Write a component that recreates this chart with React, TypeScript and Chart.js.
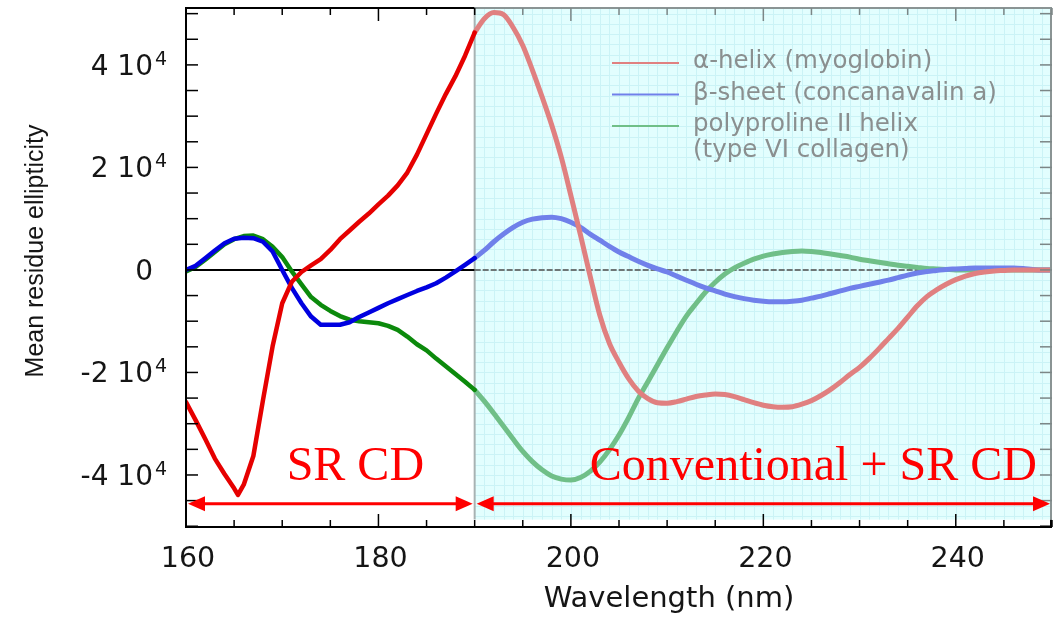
import React, { useEffect, useRef } from "react";
import { Chart, registerables } from "chart.js";

Chart.register(...registerables);

// ---------------- DATA ----------------
const alphaSRWavelengths = [160, 161, 162, 163, 164, 165, 165.4, 166, 167, 168, 169, 170, 171, 172, 173, 174, 175, 176, 177, 178, 179, 180, 181, 182, 183, 184, 185, 186, 187, 188, 189, 190];
const alphaSR = [-25800, -29300, -33000, -36800, -39800, -42600, -43900, -41900, -36300, -25400, -14900, -6500, -2300, -400, 900, 2100, 3900, 6000, 7700, 9400, 11000, 12800, 14500, 16500, 19000, 22500, 26500, 30500, 34300, 37800, 41800, 46300];

const srWavelengths = [160, 161, 162, 163, 164, 165, 166, 167, 168, 169, 170, 171, 172, 173, 174, 175, 176, 177, 178, 179, 180, 181, 182, 183, 184, 185, 186, 187, 188, 189, 190];
const betaSR = [0, 800, 2300, 3800, 5200, 6100, 6300, 6200, 5500, 3600, 0, -3500, -6500, -9100, -10700, -10700, -10700, -10200, -9200, -8300, -7400, -6500, -5700, -4900, -4100, -3400, -2600, -1500, -300, 1000, 2300];
const ppiiSR = [-300, 600, 2000, 3500, 5000, 6000, 6600, 6700, 6000, 4500, 2500, -300, -2800, -5300, -6800, -8000, -9000, -9700, -10000, -10200, -10400, -10900, -11700, -13000, -14500, -15700, -17300, -18800, -20300, -21800, -23400];

const convWavelengths = [190, 191, 192, 193, 194, 195, 196, 197, 198, 199, 200, 201, 202, 203, 204, 205, 206, 207, 208, 209, 210, 211, 212, 213, 214, 215, 216, 217, 218, 219, 220, 221, 222, 223, 224, 225, 226, 227, 228, 229, 230, 231, 232, 233, 234, 235, 236, 237, 238, 239, 240, 241, 242, 243, 244, 245, 246, 247, 248, 249, 250];
const alphaConv = [46300, 49000, 50200, 49800, 47300, 43800, 39000, 33800, 28300, 22000, 14500, 6800, -1200, -8800, -14300, -18000, -21200, -23600, -25100, -25900, -26000, -25700, -25200, -24700, -24400, -24200, -24300, -24700, -25300, -25900, -26400, -26700, -26800, -26700, -26200, -25500, -24500, -23300, -21900, -20400, -19000, -17300, -15400, -13400, -11400, -9200, -7000, -5200, -3900, -2800, -1900, -1200, -700, -400, -200, -100, 0, 0, 0, 0, 0];
const betaConv = [2300, 3800, 5500, 7000, 8300, 9300, 9900, 10200, 10300, 10000, 9300, 8300, 7000, 5800, 4600, 3500, 2600, 1700, 900, 200, -400, -1200, -2000, -2800, -3500, -4100, -4700, -5200, -5600, -5900, -6100, -6200, -6200, -6100, -5900, -5500, -5100, -4600, -4100, -3600, -3200, -2800, -2400, -2000, -1500, -1000, -600, -300, -100, 100, 200, 300, 400, 400, 400, 400, 400, 300, 100, 0, 0];
const ppiiConv = [-23400, -25600, -28000, -30500, -33000, -35400, -37400, -39000, -40200, -40800, -41000, -40500, -39300, -37500, -35100, -32200, -28800, -25100, -21800, -18500, -15200, -12000, -9000, -6600, -4300, -2400, -800, 400, 1300, 2100, 2700, 3100, 3400, 3600, 3700, 3600, 3400, 3100, 2800, 2500, 2100, 1800, 1500, 1200, 900, 700, 500, 300, 200, 100, 0, 0, 0, 0, 0, 0, 0, 0, 0, 0, 0];

const legendLabels = [["α-helix (myoglobin)"], ["β-sheet (concanavalin a)"], ["polyproline II helix", "(type VI collagen)"]];

const xTickLabels = [160, 180, 200, 220, 240];
const yTickValues = [-40000, -20000, 0, 20000, 40000];
const yTickMantissa = ["-4 10", "-2 10", "0", "2 10", "4 10"];
const yTickExponent = ["4", "4", "", "4", "4"];

const regionLabels = ["SR CD", "Conventional + SR CD"];
const regionStarts = [160, 190];
const regionEnds = [190, 250];

const xTitle = "Wavelength (nm)";
const yTitle = "Mean residue ellipticity";

// ---------------- STYLE ----------------
const X_MIN = 160, X_MAX = 250, Y_MIN = -50150, Y_MAX = 51100;
const SHADE_BOTTOM = -48700;
const ARROW_Y = -45600;
const REGION_TEXT_Y = -41000;
const SR_COLORS = ["#e60000", "#0000e0", "#0c8a0c"];
const CONV_COLORS = ["#e08080", "#7080ea", "#70bf88"];

const pts = (xs: number[], ys: number[]) => xs.map((w, i) => ({ x: w, y: ys[i] }));

const decorPlugin = {
  id: "decor",
  beforeDatasetsDraw(chart: any) {
    const { ctx, chartArea: ca, scales } = chart;
    const x = scales.x, y = scales.y;
    const xs = x.getPixelForValue(regionStarts[1]);
    const xe = x.getPixelForValue(regionEnds[1]);
    const yb = y.getPixelForValue(SHADE_BOTTOM);
    ctx.save();
    ctx.fillStyle = "#e2fefe";
    ctx.fillRect(xs, ca.top, xe - xs, yb - ca.top);
    ctx.strokeStyle = "#cbf3f6";
    ctx.lineWidth = 1;
    ctx.beginPath();
    for (let w = regionStarts[1] + 1; w < regionEnds[1]; w++) {
      const px = Math.round(x.getPixelForValue(w)) + 0.5;
      ctx.moveTo(px, ca.top);
      ctx.lineTo(px, yb);
    }
    for (let v = -48000; v <= 50000; v += 2000) {
      const py = Math.round(y.getPixelForValue(v)) + 0.5;
      ctx.moveTo(xs, py);
      ctx.lineTo(xe, py);
    }
    ctx.stroke();
    // boundary
    ctx.strokeStyle = "#a8b2b2";
    ctx.lineWidth = 2;
    ctx.beginPath();
    ctx.moveTo(xs, ca.top);
    ctx.lineTo(xs, yb);
    ctx.stroke();
    // zero line
    const y0 = y.getPixelForValue(0);
    ctx.strokeStyle = "#000";
    ctx.beginPath();
    ctx.moveTo(ca.left, y0);
    ctx.lineTo(xs, y0);
    ctx.stroke();
    ctx.strokeStyle = "#6e7676";
    ctx.setLineDash([6, 2]);
    ctx.beginPath();
    ctx.moveTo(xs, y0);
    ctx.lineTo(ca.right, y0);
    ctx.stroke();
    ctx.setLineDash([]);
    ctx.restore();
  },
  afterDatasetsDraw(chart: any) {
    const { ctx, chartArea: ca, scales } = chart;
    const x = scales.x, y = scales.y;
    const xs = x.getPixelForValue(regionStarts[1]);
    const yb = y.getPixelForValue(SHADE_BOTTOM);
    ctx.save();
    ctx.lineCap = "butt";
    // frame
    ctx.lineWidth = 2;
    ctx.strokeStyle = "#000";
    ctx.beginPath();
    ctx.moveTo(ca.left, ca.top - 1);
    ctx.lineTo(ca.left, ca.bottom + 1);
    ctx.moveTo(ca.left - 1, ca.bottom);
    ctx.lineTo(ca.right, ca.bottom);
    ctx.moveTo(ca.left, ca.top);
    ctx.lineTo(xs, ca.top);
    ctx.moveTo(ca.right - 1, yb);
    ctx.lineTo(ca.right - 1, ca.bottom);
    ctx.stroke();
    ctx.strokeStyle = "#8a9494";
    ctx.beginPath();
    ctx.moveTo(xs, ca.top);
    ctx.lineTo(ca.right, ca.top);
    ctx.moveTo(ca.right - 1, ca.top);
    ctx.lineTo(ca.right - 1, yb);
    ctx.stroke();
    // ticks
    ctx.lineWidth = 1.5;
    for (let v = -50000; v <= 50000; v += 5000) {
      const py = y.getPixelForValue(v);
      ctx.strokeStyle = "#000";
      ctx.beginPath();
      ctx.moveTo(ca.left, py);
      ctx.lineTo(ca.left + 12, py);
      ctx.stroke();
      ctx.strokeStyle = py < yb ? "#7c8686" : "#000";
      ctx.beginPath();
      ctx.moveTo(ca.right, py);
      ctx.lineTo(ca.right - 12, py);
      ctx.stroke();
    }
    for (let w = X_MIN; w <= X_MAX; w += 5) {
      const px = x.getPixelForValue(w);
      const len = (w - X_MIN) % 20 === 0 ? 13 : 7;
      ctx.strokeStyle = "#000";
      ctx.beginPath();
      ctx.moveTo(px, ca.bottom);
      ctx.lineTo(px, ca.bottom - len);
      ctx.stroke();
      ctx.strokeStyle = w > regionStarts[1] ? "#7c8686" : "#000";
      ctx.beginPath();
      ctx.moveTo(px, ca.top);
      ctx.lineTo(px, ca.top + len);
      ctx.stroke();
    }
    // arrows
    ctx.strokeStyle = "#ff0000";
    ctx.fillStyle = "#ff0000";
    ctx.lineWidth = 3;
    const ay = y.getPixelForValue(ARROW_Y);
    for (let i = 0; i < regionStarts.length; i++) {
      const x1 = x.getPixelForValue(regionStarts[i]) + 2;
      const x2 = x.getPixelForValue(regionEnds[i]) - 2;
      ctx.beginPath();
      ctx.moveTo(x1 + 8, ay);
      ctx.lineTo(x2 - 8, ay);
      ctx.stroke();
      ctx.beginPath();
      ctx.moveTo(x1, ay);
      ctx.lineTo(x1 + 17, ay - 7.5);
      ctx.lineTo(x1 + 17, ay + 7.5);
      ctx.closePath();
      ctx.fill();
      ctx.beginPath();
      ctx.moveTo(x2, ay);
      ctx.lineTo(x2 - 17, ay - 7.5);
      ctx.lineTo(x2 - 17, ay + 7.5);
      ctx.closePath();
      ctx.fill();
    }
    // region labels
    const ty = y.getPixelForValue(REGION_TEXT_Y);
    ctx.font = "48px 'Liberation Serif', 'Times New Roman', serif";
    ctx.textAlign = "center";
    ctx.textBaseline = "alphabetic";
    ctx.fillText(regionLabels[0], x.getPixelForValue(177.6), ty);
    ctx.fillText(regionLabels[1], x.getPixelForValue(225.2), ty);

    // legend
    const lx = ca.left + 426;
    const ly = ca.top + 55;
    const rowGap = 31.5;
    ctx.font = "24.5px 'DejaVu Sans', sans-serif";
    ctx.textAlign = "left";
    ctx.textBaseline = "middle";
    let row = 0;
    legendLabels.forEach((lines, i) => {
      const yy = ly + row * rowGap;
      ctx.strokeStyle = CONV_COLORS[i];
      ctx.lineWidth = 2;
      ctx.beginPath();
      ctx.moveTo(lx, yy);
      ctx.lineTo(lx + 67, yy);
      ctx.stroke();
      ctx.fillStyle = "#8a8f8f";
      lines.forEach((t, j) => {
        ctx.fillText(t, lx + 81, yy - 1 + j * 26);
      });
      row += 1;
    });

    // y tick labels
    ctx.fillStyle = "#151515";
    ctx.textBaseline = "alphabetic";
    yTickValues.forEach((v, i) => {
      const py = y.getPixelForValue(v);
      ctx.font = "28px 'DejaVu Sans', sans-serif";
      ctx.textAlign = "right";
      ctx.fillText(yTickMantissa[i], ca.left - 33, py + 10);
      if (yTickExponent[i]) {
        ctx.font = "19px 'DejaVu Sans', sans-serif";
        ctx.textAlign = "left";
        ctx.fillText(yTickExponent[i], ca.left - 31, py);
      }
    });
    // x tick labels
    ctx.font = "28.5px 'DejaVu Sans', sans-serif";
    ctx.textAlign = "center";
    xTickLabels.forEach((v) => {
      ctx.fillText(String(v), x.getPixelForValue(v) + 2, ca.bottom + 40);
    });
    // axis titles
    ctx.font = "29px 'DejaVu Sans', sans-serif";
    ctx.fillText(xTitle, ca.left + 483, ca.bottom + 80);
    ctx.save();
    ctx.translate(43, 251);
    ctx.rotate(-Math.PI / 2);
    ctx.font = "25px 'Liberation Sans', Arial, sans-serif";
    ctx.textAlign = "center";
    ctx.textBaseline = "alphabetic";
    ctx.fillText(yTitle, 0, 0);
    ctx.restore();
    ctx.restore();
  },
};

export default function App() {
  const ref = useRef<HTMLCanvasElement>(null);
  useEffect(() => {
    if (!ref.current) return;
    const srLine = (data: any, color: string) => ({
      data,
      borderColor: color,
      borderWidth: 4.5,
      pointRadius: 0,
      tension: 0,
      fill: false,
      borderJoinStyle: "round" as const,
      borderCapStyle: "round" as const,
    });
    const convLine = (data: any, color: string) => ({
      data,
      borderColor: color,
      borderWidth: 5,
      pointRadius: 0,
      cubicInterpolationMode: "monotone" as const,
      fill: false,
      borderJoinStyle: "round" as const,
      borderCapStyle: "round" as const,
    });
    const chart = new Chart(ref.current, {
      type: "line",
      data: {
        datasets: [
          srLine(pts(alphaSRWavelengths, alphaSR), SR_COLORS[0]),
          convLine(pts(convWavelengths, alphaConv), CONV_COLORS[0]),
          srLine(pts(srWavelengths, betaSR), SR_COLORS[1]),
          convLine(pts(convWavelengths, betaConv), CONV_COLORS[1]),
          srLine(pts(srWavelengths, ppiiSR), SR_COLORS[2]),
          convLine(pts(convWavelengths, ppiiConv), CONV_COLORS[2]),
        ] as any,
      },
      options: {
        animation: false,
        responsive: false,
        devicePixelRatio: 1,
        layout: { padding: { top: 8, right: 1, left: 0, bottom: 0 } },
        plugins: { legend: { display: false }, tooltip: { enabled: false } },
        events: [],
        scales: {
          x: {
            type: "linear",
            min: X_MIN,
            max: X_MAX,
            ticks: { display: false },
            grid: { display: false },
            border: { display: false },
            afterFit: (s: any) => {
              s.height = 91;
            },
          },
          y: {
            type: "linear",
            min: Y_MIN,
            max: Y_MAX,
            ticks: { display: false },
            grid: { display: false },
            border: { display: false },
            afterFit: (s: any) => {
              s.width = 186;
            },
          },
        },
      } as any,
      plugins: [decorPlugin],
    });
    return () => chart.destroy();
  }, []);
  return (
    <div style={{ position: "fixed", left: 0, top: 0, width: 1053, height: 618, background: "#fff" }}>
      <canvas ref={ref} width={1053} height={618} style={{ display: "block", width: 1053, height: 618 }} />
    </div>
  );
}
